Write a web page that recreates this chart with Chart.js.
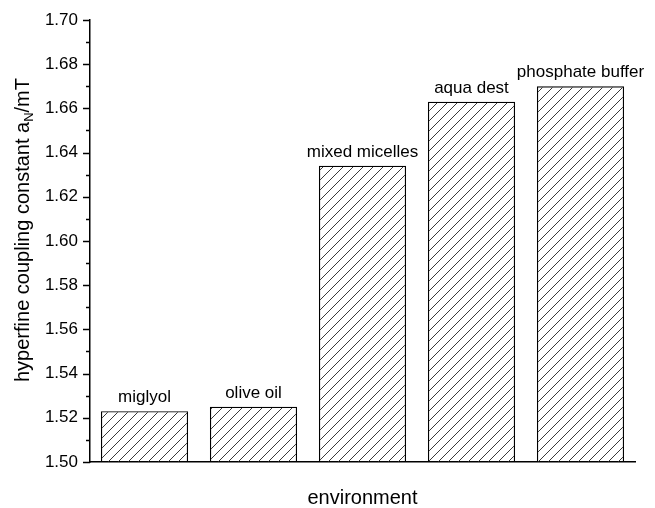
<!DOCTYPE html>
<html>
<head>
<meta charset="utf-8">
<script src="https://cdn.jsdelivr.net/npm/chart.js@4.4.1/dist/chart.umd.min.js"></script>
<style>
  html, body { margin: 0; padding: 0; background: #fff; }
  #wrap { width: 655px; height: 508px; }
</style>
</head>
<body>
<div id="wrap"><canvas id="chart"></canvas></div>
<script>
const categories = ['miglyol', 'olive oil', 'mixed micelles', 'aqua dest', 'phosphate buffer'];
const couplingValues = [1.523, 1.525, 1.634, 1.663, 1.670];
const yTicks = [1.50, 1.52, 1.54, 1.56, 1.58, 1.60, 1.62, 1.64, 1.66, 1.68, 1.70];

const FONT = '"Liberation Sans", Arial, sans-serif';

// diagonal hatch fill
function hatch() {
  const c = document.createElement('canvas');
  c.width = 10; c.height = 10;
  const g = c.getContext('2d');
  g.strokeStyle = '#222';
  g.lineWidth = 0.9;
  g.beginPath();
  g.moveTo(0, 10); g.lineTo(10, 0);
  g.moveTo(-5, 5); g.lineTo(5, -5);
  g.moveTo(5, 15); g.lineTo(15, 5);
  g.stroke();
  return g.createPattern(c, 'repeat');
}

const extras = {
  id: 'extras',
  afterDraw(chart) {
    const ctx = chart.ctx;
    const y = chart.scales.y;
    const area = chart.chartArea;
    ctx.save();
    ctx.strokeStyle = '#000';
    ctx.lineWidth = 1.5;
    // ticks on y axis (major + minor)
    for (let v = 1.50; v <= 1.7001; v += 0.01) {
      const py = Math.round(y.getPixelForValue(v)) + 0.5;
      const major = Math.round(v * 100) % 2 === 0;
      ctx.beginPath();
      ctx.moveTo(area.left, py);
      ctx.lineTo(area.left - (major ? 7 : 4), py);
      ctx.stroke();
    }
    // labels above bars
    ctx.fillStyle = '#000';
    ctx.font = '17px ' + FONT;
    ctx.textAlign = 'center';
    ctx.textBaseline = 'alphabetic';
    const meta = chart.getDatasetMeta(0);
    meta.data.forEach((bar, i) => {
      ctx.fillText(categories[i], bar.x, bar.y - 9);
    });
    // x title
    ctx.font = '20px ' + FONT;
    ctx.fillText('environment', (area.left + area.right) / 2, 504);
    // y title with subscript
    ctx.translate(22, 230);
    ctx.rotate(-Math.PI / 2);
    const main = 'hyperfine coupling constant a';
    const sub = 'N';
    const tail = '/mT';
    ctx.font = '20px ' + FONT;
    const w1 = ctx.measureText(main).width;
    const w3 = ctx.measureText(tail).width;
    ctx.font = '13px ' + FONT;
    const w2 = ctx.measureText(sub).width;
    const total = w1 + w2 + w3;
    let px = -total / 2;
    ctx.textAlign = 'left';
    ctx.font = '20px ' + FONT;
    ctx.fillText(main, px, 7);
    px += w1;
    ctx.font = '13px ' + FONT;
    ctx.fillText(sub, px, 11);
    px += w2;
    ctx.font = '20px ' + FONT;
    ctx.fillText(tail, px, 7);
    ctx.restore();
  }
};

new Chart(document.getElementById('chart'), {
  type: 'bar',
  data: {
    labels: categories,
    datasets: [{
      data: couplingValues,
      backgroundColor: hatch(),
      borderColor: '#000',
      borderWidth: 1.2,
      borderSkipped: 'bottom',
      barPercentage: 0.8,
      categoryPercentage: 1.0
    }]
  },
  options: {
    responsive: true,
    maintainAspectRatio: false,
    animation: false,
    layout: { padding: { top: 20, right: 20, left: 0, bottom: 0 } },
    scales: {
      x: {
        grid: { display: false },
        border: { display: true, color: '#000', width: 1.5 },
        ticks: { display: false },
        afterFit(s) { s.height = 46; }
      },
      y: {
        min: 1.50,
        max: 1.70,
        afterBuildTicks(s) { s.ticks = yTicks.map(v => ({ value: v })); },
        grid: { display: false },
        border: { display: true, color: '#000', width: 1.5 },
        ticks: {
          color: '#000',
          font: { family: FONT, size: 17 },
          padding: 4,
          callback: v => v.toFixed(2)
        },
        afterFit(s) { s.width = 90; }
      }
    },
    plugins: {
      legend: { display: false },
      tooltip: { enabled: false }
    }
  },
  plugins: [extras]
});
</script>
</body>
</html>
